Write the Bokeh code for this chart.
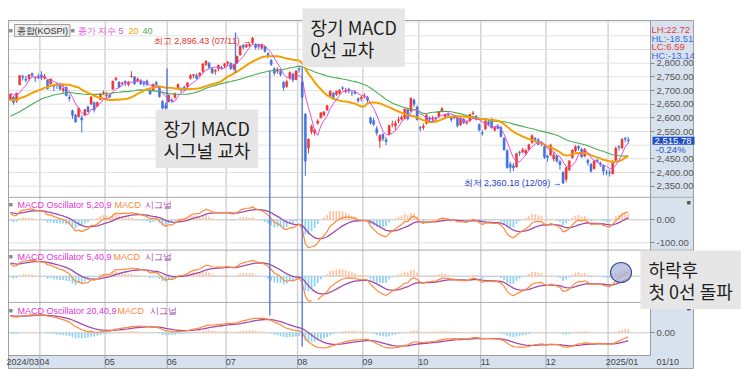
import numpy as np
import pandas as pd
from bokeh.plotting import figure
from bokeh.models import Range1d, FixedTicker, Label, LinearAxis, ColumnDataSource
from bokeh.embed import file_html
from bokeh.resources import INLINE

# ---------------- values ----------------
month_keys = ["2024-03", "2024-04", "2024-05", "2024-06", "2024-07", "2024-08",
              "2024-09", "2024-10", "2024-11", "2024-12", "2025-01"]
month_labels = ["2024/03", "04", "05", "06", "07", "08", "09", "10", "11", "12", "2025/01"]
days_mar = [18, 19, 20, 21, 22, 25, 26, 27, 28, 29]
days_apr = [1, 2, 3, 4, 5, 8, 9, 11, 12, 15, 16, 17, 18, 19, 22, 23, 24, 25, 26, 29, 30]
days_may = [2, 3, 7, 8, 9, 10, 13, 14, 16, 17, 20, 21, 22, 23, 24, 27, 28, 29, 30, 31]
days_jun = [3, 4, 5, 7, 10, 11, 12, 13, 14, 17, 18, 19, 20, 21, 24, 25, 26, 27, 28]
days_jul = [1, 2, 3, 4, 5, 8, 9, 10, 11, 12, 15, 16, 17, 18, 19, 22, 23, 24, 25, 26, 29, 30, 31]
days_aug = [1, 2, 5, 6, 7, 8, 9, 12, 13, 14, 16, 19, 20, 21, 22, 23, 26, 27, 28, 29, 30]
days_sep = [2, 3, 4, 5, 6, 9, 10, 11, 12, 13, 19, 20, 23, 24, 25, 26, 27, 30]
days_oct = [2, 4, 7, 8, 10, 11, 14, 15, 16, 17, 18, 21, 22, 23, 24, 25, 28, 29, 30, 31]
days_nov = [1, 4, 5, 6, 7, 8, 11, 12, 13, 14, 15, 18, 19, 20, 21, 22, 25, 26, 27, 28, 29]
days_dec = [2, 3, 4, 5, 6, 9, 10, 11, 12, 13, 16, 17, 18, 19, 20, 23, 24, 26, 27, 30]
days_jan = [2, 3, 6, 7, 8, 9, 10]

# closes before the visible window (needed by the 20/40 averages)
prior_close = [2435.9, 2440.0, 2472.7, 2525.0, 2478.6, 2469.7, 2470.3, 2478.6, 2500.7, 2498.8, 2497.1,
               2542.5, 2615.3, 2591.3, 2576.2, 2609.6, 2620.3, 2649.6, 2620.4, 2613.8, 2648.8,
               2680.3, 2657.8, 2653.3, 2664.3, 2667.7, 2647.1, 2625.1, 2658.6, 2642.4,
               2674.3, 2649.4, 2641.5, 2647.6, 2680.4, 2680.7, 2681.8, 2693.6, 2718.8, 2666.8]

opens = [2667, 2676, 2662, 2721, 2751, 2742, 2744, 2762, 2746, 2752,
         2757, 2745, 2738, 2725, 2720, 2723, 2725, 2700, 2712, 2675, 2626, 2610, 2605, 2600, 2610, 2640, 2650, 2655, 2642, 2667, 2690,
         2682, 2684, 2705, 2740, 2730, 2726, 2733, 2722, 2750, 2750, 2735, 2735, 2728, 2735, 2700, 2700, 2730, 2715, 2660, 2645,
         2660, 2665, 2675, 2710, 2705, 2712, 2715, 2745, 2755, 2755, 2755, 2770, 2795, 2800, 2780, 2770, 2780, 2785, 2790,
         2800, 2800, 2780, 2800, 2830, 2865, 2860, 2865, 2875, 2870, 2865, 2855, 2860, 2835, 2810, 2780, 2770, 2770, 2730, 2715, 2745, 2760, 2740,
         2780, 2730, 2614, 2490, 2550, 2545, 2580, 2600, 2610, 2630, 2680, 2690, 2685, 2690, 2710, 2700, 2705, 2690, 2695, 2670, 2670,
         2680, 2675, 2600, 2590, 2560, 2515, 2540, 2520, 2540, 2575, 2570, 2590, 2595, 2600, 2630, 2625, 2665, 2640,
         2565, 2565, 2580, 2600, 2595, 2600, 2605, 2625, 2605, 2615, 2600, 2600, 2600, 2575, 2595, 2580, 2590, 2615, 2605, 2575,
         2545, 2560, 2585, 2590, 2555, 2570, 2565, 2525, 2480, 2430, 2425, 2420, 2475, 2475, 2470, 2485, 2510, 2525, 2520, 2510, 2495,
         2460, 2465, 2450, 2460, 2440, 2400, 2375, 2410, 2455, 2480, 2495, 2485, 2460, 2445, 2430, 2415, 2445, 2435, 2425, 2400,
         2400, 2395, 2445, 2495, 2490, 2525, 2520]
highs = [2690, 2680, 2692, 2755, 2758, 2754, 2760, 2766, 2752, 2762,
         2770, 2760, 2740, 2745, 2724, 2730, 2728, 2720, 2715, 2685, 2630, 2614, 2640, 2610, 2633, 2645, 2680, 2660, 2660, 2690, 2700,
         2695, 2688, 2736, 2750, 2735, 2732, 2738, 2735, 2770, 2752, 2748, 2742, 2733, 2740, 2705, 2725, 2735, 2717, 2665, 2655,
         2685, 2672, 2692, 2725, 2712, 2718, 2730, 2760, 2760, 2762, 2768, 2800, 2810, 2805, 2785, 2778, 2795, 2790, 2800,
         2808, 2802, 2798, 2828, 2865, 2870, 2870, 2875, 2896.43, 2872, 2870, 2870, 2862, 2840, 2815, 2785, 2785, 2778, 2735, 2740, 2770, 2765, 2775,
         2785, 2735, 2616, 2525, 2575, 2560, 2595, 2620, 2625, 2648, 2700, 2695, 2700, 2705, 2715, 2710, 2710, 2700, 2700, 2675, 2680,
         2690, 2680, 2605, 2600, 2570, 2540, 2545, 2530, 2575, 2590, 2590, 2605, 2610, 2635, 2635, 2675, 2670, 2645,
         2570, 2580, 2612, 2605, 2608, 2605, 2625, 2640, 2615, 2620, 2605, 2610, 2605, 2600, 2600, 2590, 2615, 2625, 2610, 2580,
         2555, 2590, 2590, 2600, 2570, 2578, 2570, 2530, 2485, 2440, 2435, 2472, 2480, 2490, 2485, 2505, 2540, 2530, 2525, 2515, 2500,
         2465, 2505, 2475, 2465, 2445, 2405, 2420, 2445, 2485, 2500, 2500, 2490, 2490, 2450, 2435, 2445, 2450, 2440, 2430, 2410,
         2410, 2445, 2495, 2500, 2525, 2530, 2530]
lows = [2662, 2648, 2655, 2720, 2737, 2730, 2737, 2748, 2731, 2742,
        2738, 2740, 2703, 2720, 2698, 2706, 2700, 2690, 2678, 2660, 2596, 2584, 2600, 2546, 2606, 2620, 2648, 2620, 2640, 2665, 2683,
        2672, 2672, 2703, 2735, 2708, 2718, 2715, 2715, 2748, 2720, 2730, 2720, 2715, 2716, 2684, 2698, 2718, 2674, 2630, 2628,
        2656, 2655, 2670, 2705, 2695, 2698, 2710, 2740, 2745, 2740, 2750, 2765, 2790, 2780, 2760, 2758, 2770, 2775, 2782,
        2790, 2775, 2772, 2798, 2828, 2850, 2855, 2860, 2870, 2850, 2850, 2850, 2838, 2818, 2790, 2755, 2760, 2752, 2700, 2710, 2740, 2730, 2738,
        2765, 2670, 2386.96, 2470, 2540, 2535, 2575, 2598, 2605, 2625, 2675, 2665, 2680, 2685, 2700, 2690, 2690, 2680, 2685, 2655, 2660,
        2670, 2655, 2575, 2570, 2535, 2490, 2515, 2500, 2535, 2565, 2555, 2580, 2590, 2595, 2590, 2620, 2640, 2590,
        2550, 2555, 2575, 2585, 2585, 2585, 2600, 2620, 2600, 2600, 2585, 2595, 2565, 2570, 2578, 2575, 2585, 2610, 2590, 2550,
        2535, 2555, 2570, 2560, 2550, 2558, 2528, 2480, 2415, 2400, 2405, 2418, 2460, 2470, 2465, 2480, 2505, 2515, 2500, 2495, 2450,
        2440, 2460, 2440, 2435, 2410, 2360.18, 2365, 2405, 2450, 2475, 2480, 2455, 2455, 2425, 2400, 2410, 2435, 2420, 2390, 2390,
        2385, 2393, 2440, 2480, 2485, 2510, 2505]
closes = [2685.8, 2656.2, 2690.1, 2754.9, 2748.6, 2737.6, 2757.1, 2755.1, 2745.8, 2746.6,
          2747.9, 2753.2, 2706.9, 2742.0, 2714.2, 2717.7, 2705.2, 2706.9, 2681.8, 2670.4, 2609.6, 2584.2, 2634.7, 2591.9, 2629.4, 2623.0, 2675.8, 2628.6, 2656.3, 2687.4, 2692.1,
          2683.7, 2676.6, 2734.4, 2745.1, 2712.1, 2727.6, 2727.2, 2730.3, 2753.0, 2724.6, 2742.1, 2724.2, 2723.5, 2721.8, 2687.6, 2722.9, 2722.0, 2677.3, 2635.4, 2636.5,
          2682.5, 2662.1, 2689.5, 2722.7, 2701.2, 2705.2, 2728.2, 2754.5, 2758.4, 2744.1, 2763.9, 2797.3, 2807.6, 2784.1, 2764.7, 2774.4, 2792.1, 2784.1, 2797.8,
          2804.3, 2780.9, 2794.0, 2824.9, 2862.2, 2857.8, 2867.4, 2867.9, 2891.4, 2857.0, 2860.9, 2866.1, 2843.8, 2824.4, 2795.5, 2763.5, 2774.4, 2758.7, 2710.7, 2731.9, 2765.5, 2738.2, 2770.7,
          2777.7, 2676.2, 2441.6, 2522.2, 2568.4, 2556.7, 2588.4, 2618.3, 2621.5, 2644.5, 2697.2, 2674.4, 2696.6, 2701.1, 2707.7, 2701.7, 2698.0, 2689.8, 2689.3, 2662.3, 2674.3,
          2681.0, 2664.6, 2580.8, 2576.2, 2544.3, 2535.9, 2523.4, 2513.4, 2572.1, 2575.4, 2580.8, 2593.4, 2602.0, 2631.7, 2596.3, 2671.6, 2649.8, 2593.3,
          2561.7, 2569.7, 2610.4, 2594.4, 2599.2, 2596.9, 2623.3, 2633.5, 2610.4, 2609.3, 2593.7, 2604.4, 2570.7, 2599.6, 2581.0, 2583.3, 2612.4, 2617.8, 2593.8, 2556.2,
          2542.4, 2588.6, 2576.9, 2563.5, 2564.6, 2561.2, 2531.7, 2482.6, 2417.1, 2418.9, 2416.9, 2469.1, 2471.9, 2482.2, 2481.7, 2501.2, 2534.3, 2520.4, 2503.1, 2504.7, 2455.9,
          2455.9, 2500.1, 2464.0, 2441.9, 2428.2, 2360.6, 2417.8, 2442.5, 2482.1, 2494.5, 2488.9, 2456.8, 2484.4, 2435.9, 2404.2, 2442.0, 2440.8, 2429.7, 2404.8, 2399.5,
          2398.9, 2441.9, 2488.6, 2492.1, 2521.9, 2521.9, 2515.78]

readout_texts = ["LH:22.72", "HL:-18.51", "LC:6.59", "HC:-13.14"]
price_ticks = [2350, 2400, 2450, 2550, 2600, 2650, 2700, 2750, 2800]

# ---------------- derived series ----------------
month_lists = [days_mar, days_apr, days_may, days_jun, days_jul, days_aug,
               days_sep, days_oct, days_nov, days_dec, days_jan]
dates = [pd.Timestamp(f"{ym}-{d:02d}") for ym, ds in zip(month_keys, month_lists) for d in ds]
n = len(closes)
idx = np.arange(n)
o = np.array(opens, float); h = np.array(highs, float)
l = np.array(lows, float); c = np.array(closes, float)

allc = pd.Series(list(prior_close) + list(closes))
n0 = len(prior_close)
ma5 = allc.rolling(5).mean().values[n0:]
ma20 = allc.rolling(20).mean().values[n0:]
ma40 = allc.rolling(40).mean().values[n0:]


def macd(fast, slow, sig):
    m = allc.ewm(span=fast, adjust=False).mean() - allc.ewm(span=slow, adjust=False).mean()
    s = m.ewm(span=sig, adjust=False).mean()
    return m.values[n0:], s.values[n0:], (m - s).values[n0:]


m1, sg1, os1 = macd(5, 20, 9)
m2, sg2, os2 = macd(5, 40, 9)
m3, sg3, os3 = macd(20, 40, 9)

# ---------------- layout (canvas pixels; canvas == page) ----------------
W, H = 743, 375
CL, CR, CT, CB = 8, 650, 20, 355       # chart area
AX_R, AX_B = 693, 368                   # right / bottom axis strips
PX_DAY = 3.105
X0 = -0.6
P_TOP = 2956.1                          # price at y = CT
P_PX = 13.667 / 50.0


def px_x(px):
    return X0 + (px - CL) / PX_DAY


def px_p(py):
    return P_TOP - (py - CT) / P_PX


FONT = "Liberation Sans"
CJK = "Noto Sans CJK KR"
BLUE_BG = "#d8e2ee"
GRID = "#e2e2e2"
UP, DOWN = "#ee3636", "#4272e0"
C_MA5, C_MA20, C_MA40 = "#e24fdc", "#f2a100", "#4cae55"
C_MACD, C_SIG = "#ff8a3c", "#a34aa8"
C_POS, C_NEG = "#ffc3a3", "#8fd2f0"

p = figure(width=W, height=H, x_range=Range1d(px_x(0), px_x(W)), y_range=Range1d(px_p(H), px_p(0)),
           output_backend="svg", toolbar_location=None, x_axis_location=None, y_axis_location=None,
           min_border=0, min_border_left=0, min_border_right=0, min_border_top=0, min_border_bottom=0)
p.background_fill_color = "white"
p.border_fill_color = "white"
p.outline_line_color = None
p.xgrid.visible = False
p.ygrid.visible = False

# MACD panels: zero-line y, px per unit, band
s1 = 0.23
s2 = 16.0 / np.nanmax(m2)
s3 = 18.0 / np.nanmax(m3)
panels = {
    "m1": (219.3, s1, (197.5, 248.5), m1, sg1, os1),
    "m2": (275.7, s2, (250.5, 301.0), m2, sg2, os2),
    "m3": (332.3, s3, (302.5, 354.0), m3, sg3, os3),
}
for name, (zy, s, band, *_r) in panels.items():
    p.extra_y_ranges[name] = Range1d(-(H - zy) / s, zy / s)


def to_p(v, zy, s):
    return px_p(zy - v * s)


# axis strips and bottom scroll strip
p.quad(left=[px_x(CR), px_x(CL)], right=[px_x(AX_R), px_x(AX_R)],
       top=[px_p(CT), px_p(CB)], bottom=[px_p(AX_B), px_p(AX_B)],
       fill_color=BLUE_BG, line_color=None)

# grid lines
month_start = np.cumsum([0] + [len(m) for m in month_lists[:-1]])
boundaries = np.array([float(k) - 0.5 for k in month_start[1:]])
p.segment(x0=boundaries, y0=px_p(CT), x1=boundaries, y1=px_p(CB), line_color="#d4d4d4", line_width=1.5)
p.segment(x0=boundaries, y0=px_p(CB), x1=boundaries, y1=px_p(AX_B), line_color="#9fb0c4", line_width=1)
gp = np.arange(2350, 2951, 50)
p.segment(x0=px_x(CL), y0=gp, x1=px_x(CR), y1=gp, line_color=GRID, line_width=1)
zero_lines = [to_p(0, zy, s) for (zy, s, *_r) in panels.values()] + [to_p(-100, 219.3, s1)]
p.segment(x0=px_x(CL), y0=zero_lines, x1=px_x(CR), y1=zero_lines,
          line_color=["#c6c6c6", "#c6c6c6", "#c6c6c6", GRID], line_width=1)

# panel frames
seps = [px_p(196.8), px_p(249.6), px_p(301.9)]
p.segment(x0=px_x(CL), y0=seps, x1=px_x(AX_R), y1=seps, line_color="#a9a9a9", line_width=1)
p.quad(left=px_x(CL), right=px_x(CR), top=px_p(CT), bottom=px_p(CB),
       fill_alpha=0, line_color="#a0a0a0", line_width=1)
p.quad(left=px_x(CL), right=px_x(AX_R), top=px_p(CT), bottom=px_p(AX_B),
       fill_alpha=0, line_color="#a0a0a0", line_width=1)

# candles
src = ColumnDataSource(dict(x=idx, h=h, l=l, top=np.maximum(o, c), bot=np.minimum(o, c),
                            col=[UP if cc >= oo else DOWN for oo, cc in zip(o, c)]))
p.segment("x", "h", "x", "l", source=src, line_color="col", line_width=1)
p.vbar(x="x", width=0.66, top="top", bottom="bot", source=src, fill_color="col", line_color="col", line_width=0.5)

# moving averages
p.line(idx, ma40, line_color=C_MA40, line_width=1.1)
p.line(idx, ma20, line_color=C_MA20, line_width=2)
p.line(idx, ma5, line_color=C_MA5, line_width=1)

# MACD panels
for name, (zy, s, band, ml, sl, osc) in panels.items():
    vmax = (zy - band[0]) / s
    vmin = -(band[1] - zy) / s

    def mask(v):
        v = np.array(v, float).copy()
        v[(v > vmax) | (v < vmin)] = np.nan
        return v
    p.vbar(x=idx, top=np.clip(osc, vmin, vmax), bottom=0, width=0.55,
           fill_color=[C_POS if v >= 0 else C_NEG for v in osc], line_color=None, y_range_name=name)
    p.line(idx, mask(sl), line_color=C_SIG, line_width=1.3, y_range_name=name)
    p.line(idx, mask(ml), line_color=C_MACD, line_width=1.2, y_range_name=name)

# hand-drawn marker lines
mk_x = [px_x(269.3), px_x(301.7), px_x(166.5), px_x(235.0)]
mk_y0 = [px_p(70), px_p(66), px_p(68), px_p(32)]
mk_y1 = [px_p(315), px_p(346), px_p(108), px_p(72)]
p.segment(mk_x, mk_y0, mk_x, mk_y1, line_color="#4a68da", line_width=1.4, line_alpha=0.9)

# highlighted oscillator bars
p.ellipse(x=[px_x(620.5)], y=[px_p(272)], width=21, height=20, width_units="screen",
          height_units="screen", fill_color="#a8b6dc", fill_alpha=0.75, line_color="#3b4d8c", line_width=1.2)

# right axis (price + MACD zero marks)
overrides = {t: f"{t:,.2f}" for t in price_ticks}
overrides[int(round(to_p(0, 219.3, s1)))] = "0.00"
overrides[int(round(to_p(-100, 219.3, s1)))] = "-100.00"
overrides[int(round(to_p(0, 275.7, s2)))] = "0.00"
overrides[int(round(to_p(0, 332.3, s3)))] = "0.00"
ya = LinearAxis(fixed_location=px_x(CR), bounds=(px_p(CB), px_p(CT)),
                ticker=FixedTicker(ticks=sorted(overrides.keys())), major_label_overrides=overrides)
ya.major_label_text_font = FONT
ya.major_label_text_font_size = "9.5px"
ya.major_label_text_color = "#555555"
ya.major_tick_out = 4
ya.major_tick_in = 0
ya.minor_tick_line_color = None
ya.major_tick_line_color = "#8a8a8a"
ya.major_label_standoff = 2
ya.axis_line_color = "#9c9c9c"
p.add_layout(ya, "right")

# bottom axis (months)
xt = {}
for st, lab in zip(month_start, month_labels):
    off = 4.5 if len(lab) > 2 else 1.5
    xt[int(round(st - 0.5 + off))] = lab
xa = LinearAxis(fixed_location=px_p(CB), bounds=(px_x(CL), px_x(CR)),
                ticker=FixedTicker(ticks=sorted(xt.keys())), major_label_overrides=xt)
xa.major_label_text_font = FONT
xa.major_label_text_font_size = "9px"
xa.major_label_text_color = "#444444"
xa.major_tick_line_color = None
xa.minor_tick_line_color = None
xa.major_tick_out = 0
xa.major_tick_in = 0
xa.minor_tick_out = 0
xa.minor_tick_in = 0
xa.major_label_standoff = 1
xa.axis_line_color = "#9c9c9c"
p.add_layout(xa, "below")


def label(text, px, py, color, size=9.5, font=FONT, align="left", baseline="middle", **kw):
    p.add_layout(Label(x=px_x(px), y=px_p(py), text=text, text_color=color,
                       text_font=font, text_font_size=f"{size}px",
                       text_align=align, text_baseline=baseline, **kw))


label("01/10", 656, 361.5, "#444444", size=9)

# price header
label("■", 8, 30, "#8a8a8a", size=7)
label("종합(KOSPI)", 14, 30, "#333333", size=9, background_fill_color="#ececec", border_line_color="#a0a0a0",
      padding=dict(left=2, right=2, top=1, bottom=1))
label("■", 70, 30, "#8a8a8a", size=7)
label("종가 지수 5", 77, 30, C_MA5, size=9)
label("20", 128, 30, C_MA20, size=9)
label("40", 142, 30, C_MA40, size=9)

# MACD headers
for (py, main, xm, xs) in ((204, "MACD Oscillator 5,20,9", 114, 144),
                           (256, "MACD Oscillator 5,40,9", 113, 144),
                           (310, "MACD Oscillator 20,40,9", 117, 149)):
    label("■", 8, py, "#8a8a8a", size=7)
    label(main, 17, py, "#e236d8", size=9)
    label("MACD", xm, py, C_MACD, size=9)
    label("시그널", xs, py, C_SIG, size=9)
    label("■", 686, py - 2, "#555555", size=7)

# high / low marks
imax = int(np.argmax(h)); imin = int(np.argmin(l))
p.add_layout(Label(x=imax - 0.45, y=px_p(40), text=f"최고 {h[imax]:,.2f} ({dates[imax]:%m/%d}) →",
                   text_color="#e8322e", text_font=FONT, text_font_size="9px",
                   text_align="right", text_baseline="middle"))
p.add_layout(Label(x=imin - 0.45, y=l[imin], text=f"최저 {l[imin]:,.2f} ({dates[imin]:%m/%d}) →",
                   text_color="#2a3fd0", text_font=FONT, text_font_size="9px",
                   text_align="right", text_baseline="middle"))

# right-side readouts
for t, py, col in zip(readout_texts, (29, 37.5, 46, 54.5), ("#e23b3b", "#3a6cd6", "#e23b3b", "#3a6cd6")):
    label(t, 651, py, col, size=9.5)
chg = (c[-1] - c[-2]) / c[-2] * 100
p.add_layout(Label(x=px_x(652), y=c[-1], text=f"{c[-1]:,.2f}", text_color="white",
                   text_font=FONT, text_font_size="9.5px", text_align="left", text_baseline="middle",
                   background_fill_color="#1f4fc8", padding=dict(left=2, right=3, top=1, bottom=1)))
label(f"{chg:.2f}%", 655, 149, "#2a56cc")

# callout boxes (x, y = box top-left corner)
box_kw = dict(size=18, font=CJK, align="left", baseline="top", background_fill_color="#e6e6e6",
              text_line_height=0.87, padding=dict(left=8, right=8, top=5, bottom=5))
label("장기 MACD\n0선 교차", 302, 8, "#1e1e1e", **box_kw)
label("장기 MACD\n시그널 교차", 155, 109, "#1e1e1e", **box_kw)
label("하락후\n첫 0선 돌파", 640, 250, "#1e1e1e", **box_kw)

html = file_html(p, INLINE, title="KOSPI MACD")
open("out.html", "w", encoding="utf-8").write(html)
